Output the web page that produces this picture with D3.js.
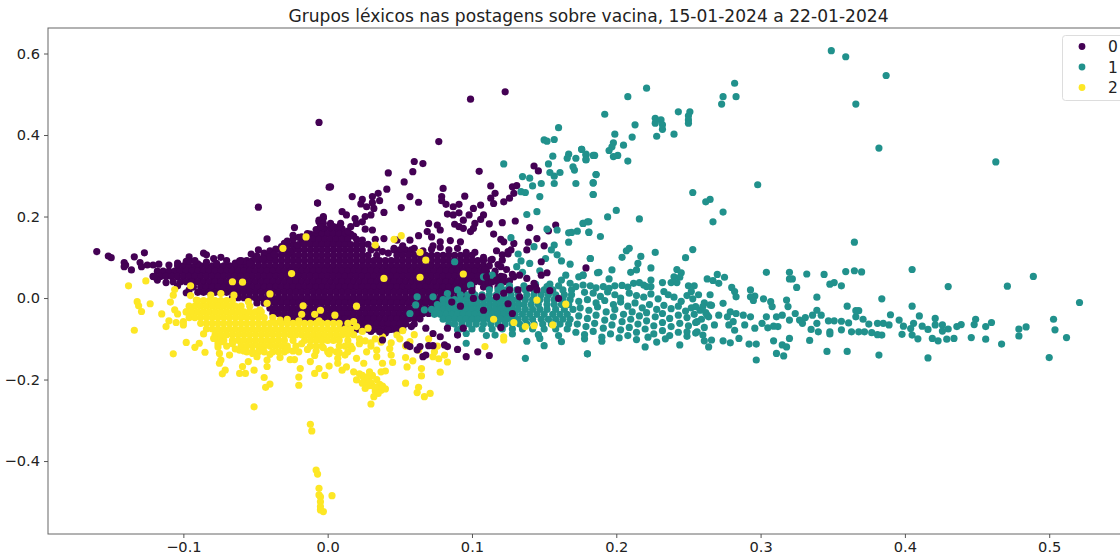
<!DOCTYPE html>
<html><head><meta charset="utf-8">
<script src="https://cdn.jsdelivr.net/npm/d3@7/dist/d3.min.js"></script>
<style>html,body{margin:0;padding:0;background:#fff;overflow:hidden}text{font-family:"DejaVu Sans",sans-serif}</style>
</head><body><svg id="c" width="1120" height="557"></svg>
<script>
const title = "Grupos léxicos nas postagens sobre vacina, 15-01-2024 a 22-01-2024";
const xTicks = [-0.1,0,0.1,0.2,0.3,0.4,0.5];
const yTicks = [-0.4,-0.2,0,0.2,0.4,0.6];
const groups = ["0","1","2"];
const colors = ["#440154","#21918c","#fde725"];
// all coordinates are in thousandths of the axis units
const purpleRowY = [170,157,144,131,118,105,92,79,66,53,40,27,14,1,-12,-25,-38,-51,-64,-77];
const purpleRowX = [
[-6,-2,2,6,10],
[-12,-8,-4,0,4,8,12,16],
[-18,-14,-10,-6,-2,2,6,10,14,20],
[-24,-20,-16,-12,-8,-4,0,4,8,12,16,20,24],
[-28,-24,-20,-16,-12,-8,-4,0,4,8,12,16,20,24,30,46,50,54,58],
[-44,-40,-36,-32,-28,-24,-20,-16,-12,-8,-4,0,4,8,12,16,20,24,28,34,48,52,56,60,64,68,72,76,80,84,88,92,96,100],
[-60,-56,-52,-48,-44,-40,-36,-32,-28,-24,-20,-16,-12,-8,-4,0,4,8,12,16,20,24,28,32,36,40,44,48,52,56,60,64,68,72,76,80,84,88,92,96,100,104,108],
[-104,-100,-96,-92,-88,-84,-80,-76,-72,-68,-64,-60,-56,-52,-48,-44,-40,-36,-32,-28,-24,-20,-16,-12,-8,-4,0,4,8,12,16,20,24,28,32,36,40,44,48,52,56,60,64,68,72,76,80,84,88,92,96,100,104,108,112],
[-118,-114,-110,-106,-102,-98,-94,-90,-86,-82,-78,-74,-70,-66,-62,-58,-54,-50,-46,-42,-38,-34,-30,-26,-22,-18,-14,-10,-6,-2,2,6,10,14,18,22,26,30,34,38,42,46,50,54,58,62,66,70,74,78,82,86,90,94,98,102,106,110,116],
[-121,-116,-112,-108,-104,-100,-96,-92,-88,-84,-80,-76,-72,-68,-64,-60,-56,-52,-48,-44,-40,-36,-32,-28,-24,-20,-16,-12,-8,-4,0,4,8,12,16,20,24,28,32,36,40,44,48,52,56,60,64,68,72,76,80,84,88,92,96,100,104,108,112,116,120],
[-107,-102,-98,-94,-90,-86,-82,-78,-74,-70,-66,-62,-58,-54,-50,-46,-42,-38,-34,-30,-26,-22,-18,-14,-10,-6,-2,2,6,10,14,18,22,26,30,34,38,42,46,50,54,58,62,66,70,74,78,82,86,90,94,98,102,106,110,114,118,122],
[-93,-88,-84,-80,-76,-72,-68,-64,-60,-56,-52,-48,-44,-40,-36,-32,-28,-24,-20,-16,-12,-8,-4,0,4,8,12,16,20,24,28,32,36,40,44,48,52,56,60,64,68,72,76,80,84,88,92,96,100,108,112,118,126],
[-90,-86,-82,-78,-74,-70,-66,-62,-58,-54,-50,-46,-42,-38,-34,-30,-26,-22,-18,-14,-10,-6,-2,2,6,10,14,18,22,26,30,34,38,42,46,50,54,58,62,66,70,74,78,82,86,90,94,100],
[-66,-62,-58,-54,-50,-46,-42,-38,-34,-30,-26,-22,-18,-14,-10,-6,-2,2,6,10,14,18,22,26,30,34,38,42,46,50,54,58,62,66,70,74,78,82,86,90,96],
[-49,-44,-40,-36,-32,-28,-24,-20,-16,-12,-8,-4,0,4,8,12,16,20,24,28,32,36,40,44,48,52,56,60,64,68,72,76,80],
[-40,-36,-32,-28,-24,-20,-16,-12,-8,-4,0,4,8,12,16,20,24,28,32,36,40,44,48,52,56,60,64,68,72,76],
[-38,-34,-30,-26,-22,-18,-14,-10,-6,-2,2,6,10,14,18,22,26,30,34,38,42,46,50,54,58,62,66,70],
[-32,-28,-24,-20,-16,-12,-8,-4,0,4,8,12,16,20,24,28,32,36,40,44,48,52,56,60,64],
[10,14,18,22,26,30,34,38,42,46,50,54,60],
[20,24,28,32,36,40,44,48,52]];
const purpleEdge = [[-104,86],[-98,90],[-90,84],[-84,88],[-70,92],[-64,86],[-58,90],[-50,97],[-44,110],[-40,116],[-36,120],[-32,115],[-28,128],[-28,140],[-24,144],[-18,150],[-14,158],[-8,168],[-4,178],[2,183],[8,176],[14,164],[18,152],[24,142],[28,132],[34,122],[38,114],[42,110],[46,122],[52,128],[60,122],[66,116],[72,120],[78,124],[84,118],[90,122],[96,112],[102,112],[108,100],[114,95],[118,82],[124,70],[128,58],[126,42],[-118,44],[-112,38],[-104,30],[-96,20],[30,-82],[40,-86],[48,-82],[14,-72],[58,-70]];
const purpleSparse = [[-160,114],[-152,103],[-150,99],[-141,87],[-140,81],[-141,77],[-136,69],[-134,101],[-127,111],[-130,87],[-129,77],[-125,81],[-121,81],[-117,83],[-110,81],[-120,52],[-96,101],[-96,92],[-92,92],[-86,110],[-84,106],[-79,97],[-74,100],[-77,85],[-61,91],[-54,85],[-53,108],[-48,118],[-45,97],[-49,103],[-40,101],[-37,107],[-48,223],[-42,145],[-23,173],[-7,233],[1,272],[-24,154],[-20,149],[-30,134],[-21,130],[-26,114],[-32,126],[-3,196],[-6,187],[-3,173],[2,179],[-98,13],
[99,488],[123,506],[-6,431],[77,384],[60,335],[66,330],[59,310],[42,307],[105,311],[53,285],[2,273],[41,267],[80,269],[17,249],[57,249],[95,250],[-7,233],[63,235],[51,222],[113,275],[116,257],[128,273],[131,276],[129,257],[126,245],[113,245],[115,232],[122,236],[143,324],[146,312],
[79,249],[79,239],[82,230],[87,224],[91,230],[83,206],[87,204],[91,209],[101,220],[106,228],[98,204],[94,191],[108,204],[106,193],[102,183],[88,181],[91,175],[94,171],[99,163],[101,171],[112,182],[121,185],[130,189],[140,173],[115,157],[153,165],[158,179],[145,146],[120,144],[122,138],[129,134],[139,137],[150,128],[127,118],[125,108],[121,106],[117,116],[138,118],
[92,138],[85,141],[78,138],[73,128],[70,183],[76,179],[69,163],[72,150],[78,167],[63,153],[57,142],[48,142],[39,146],[33,144],[31,167],[26,169],[24,187],[19,195],[13,204],[10,212],[39,210],[30,204],[26,200],[32,220],[27,224],[23,231],[24,242],[31,249],[35,257],[36,239],[31,234],[-3,200],[-6,191],[-3,183],[-5,175],[9,183],[4,175],[16,175],[20,183]];
const yellowRowY = [-6,-20,-34,-48,-62,-76,-90,-104,-118,-132];
const yellowRowX = [
[-90,-86,-82,-78,-74,-70,-66],
[-96,-92,-88,-84,-80,-76,-72,-68,-64,-60,-54],
[-98,-94,-90,-86,-82,-78,-74,-70,-66,-62,-58,-54,-50,-46],
[-96,-92,-88,-84,-80,-76,-72,-68,-64,-60,-56,-52,-48,-44,-38],
[-88,-84,-80,-76,-72,-68,-64,-60,-56,-52,-48,-44,-40,-36,-32,-28,-24,-20,-16,-12,-8,-4,0,4,8,14],
[-84,-80,-76,-72,-68,-64,-60,-56,-52,-48,-44,-40,-36,-32,-28,-24,-20,-16,-12,-8,-4,0,4,8,12,16],
[-78,-74,-70,-66,-62,-58,-54,-50,-46,-42,-38,-34,-30,-26,-22,-18,-14,-10,-6,-2,2,6,10,14,18],
[-76,-72,-66,-62,-58,-54,-50,-46,-42,-38,-34,-30,-24,-16,-12,-8,-4,0,4,8,14],
[-60,-56,-52,-48,-44,-40,-36,-32,-28,-22,-12,-8,-4,8,12,16],
[-56,-52,-48,-44,-38,-30,-20,0,6,14]];
const yellowEdge = [[-98,-34],[-91,-5],[-81,7],[-74,11],[-65,7],[-55,-9],[-42,-13],[-47,-29],[-33,-54],[-79,-99],[-76,-112],[-61,-128],[-49,-144],[-42,-152],[-28,-128],[-66,-112],[-70,-118],[-64,-125],[-58,-130],[-52,-136],[-46,-128],[-40,-138],[-34,-132],[-28,-124],[-24,-130],[-18,-112],[-14,-126],[-8,-130],[-3,-122],[2,-128],[8,-134],[12,-140],[17,-124],[22,-112],[26,-105],[30,-118],[33,-100],[37,-108],[44,-110],[50,-100],[54,-118],[22,-186],[25,-196],[27,-200],[30,-208],[31,-215],[34,-200],[36,-212],[33,-228],[37,-226],[28,-215],[24,-190],[31,-190],[35,-222],[38,-216],[20,-70],[24,-82],[28,-74],[18,-58],[-20,-56],[-6,-56],[-28,-52]];
const yellowSparse = [[-138,30],[-126,42],[-106,21],[-95,30],[-107,7],[-95,6],[-109,-10],[-132,-9],[-131,-19],[-123,-14],[-129,-33],[-115,-39],[-106,-29],[-104,-39],[-110,-56],[-105,-60],[-100,-58],[-112,-70],[-100,-66],[-134,-79],[-107,-137],[-86,-88],[-98,-109],[-89,-111],[-92,-121],[-85,-133],[-73,-107],[-76,-120],[-75,-136],[-68,-140],[-75,-160],[-74,-152],[-71,-177],[-73,-186],[-61,-185],[-57,-185],[-51,-177],[-59,-168],[-55,-156],[-42,-168],[-44,-195],[-40,-211],[-43,-219],[-33,-146],[-26,-151],[-23,-151],[-19,-173],[-20,-194],[-20,-214],[-9,-185],[-6,-173],[-2,-190],[1,-167],[-12,-156],[-9,-141],
[-51,-267],[-12,-310],[-11,-326],[-8,-422],[-7,-432],[-6,-467],[-6,-483],[-5,-488],[3,-485],[-5,-500],[-5,-512],[-3,-524],[-5,-520],
[7,-160],[10,-177],[13,-169],[18,-181],[20,-201],[24,-209],[26,-222],[28,-193],[29,-205],[29,-181],[33,-219],[35,-234],[32,-242],[30,-260],[40,-223],[37,-181],[40,-179],[38,-160],[45,-158],[54,-209],[55,-169],[63,-219],[62,-232],[67,-242],[71,-234],[65,-191],[65,-173],[78,-182],[59,-154],[54,-146],[83,-157],[77,-149],[81,-140],[73,-144],[74,-132],[63,-128],[57,-107],[48,-91],[44,-140],[43,-124],[34,-144],[34,-128],[27,-132],[25,-160],[20,-148],[7,-148],[1,-137],[22,-100],[30,-110],[38,-95],[52,-80],[60,-90],[70,-100],[76,-118],
[-66,40],[-59,39],[-31,122],[-18,-40],[-17,-19],[-9,-40],[-5,-30],[5,-42],[39,48],[51,153],[68,93],[94,59],[46,144],[33,130],[64,112],[64,51],[-25,60],[-40,10],[20,-20],[-15,150]];
const tealRowY = [20,8,-4,-16,-28,-40,-52,-64,-76];
const tealRowX = [
[112,118,124,131,137,143,150,156,163,169],
[92,97,102,107,112,117,122,127,132,138,143,148,153,158,164,169],
[80,84,88,92,96,100,104,108,112,116,120,124,128,132,137,142,147,152,157,163,168],
[76,80,84,88,92,96,100,104,108,112,116,120,124,128,132,136,141,146,152,157,162,167],
[72,76,80,84,88,92,96,100,104,108,112,116,120,124,128,132,137,142,147,152,158,164,170],
[74,78,82,86,90,94,98,102,106,110,114,118,122,126,130,135,140,145,150,156,161,166],
[80,84,88,92,96,100,104,108,112,116,120,124,128,132,137,142,148,153,158,163,168],
[84,88,93,98,103,108,113,118,123,128,133,138,143,149,155,161,167],
[92,100,107,114,121,128,135,142,150,158,166]];
const tealScatter = [[177,32],[182,30],[186,25],[191,28],[195,24],[199,30],[204,31],[208,27],[212,36],[216,38],[219,32],[224,28],[178,14],[184,12],[189,4],[194,15],[199,8],[203,0],[209,12],[214,6],[219,2],[224,10],[229,-2],[233,16],[236,8],[240,2],[245,-8],[249,6],[253,-2],[257,8],[261,-12],[266,-18],
[174,-8],[180,-4],[186,-12],[192,-6],[198,-16],[203,-10],[208,-20],[213,-12],[218,-24],[223,-16],[228,-28],[233,-18],[238,-26],[243,-20],[248,-32],[252,-24],[258,-30],[262,-36],
[175,-24],[181,-30],[187,-22],[193,-34],[199,-28],[205,-40],[211,-34],[216,-44],[221,-36],[227,-46],[232,-38],[237,-50],[243,-42],[249,-48],[254,-40],[259,-52],[264,-46],
[174,-44],[180,-50],[186,-42],[192,-54],[198,-46],[204,-58],[210,-52],[215,-64],[221,-56],[226,-68],[232,-60],[238,-70],[244,-62],[250,-68],[255,-60],[261,-72],
[173,-64],[179,-70],[185,-62],[191,-74],[197,-66],[203,-78],[209,-72],[214,-84],[220,-76],[226,-88],[232,-80],[237,-92],[243,-84],[249,-94],[255,-86],
[172,-84],[178,-90],[184,-82],[190,-96],[196,-88],[202,-98],[208,-92],[214,-102],[222,-96],[228,-108],[234,-100],[190,-106],[178,-100]];
const tealSparse = [[349,607],[359,592],[387,546],[366,476],[382,368],[463,334],[298,278],[282,527],[274,494],[283,494],[273,476],[221,515],[208,494],[192,451],[243,457],[251,457],[250,447],[250,437],[250,429],[227,441],[227,429],[231,437],[232,425],[232,414],[240,402],[228,397],[213,425],[199,402],[211,395],[205,375],[198,381],[197,371],[195,362],[198,347],[201,350],[208,336],[185,350],[179,351],[179,339],[176,365],[186,303],[184,282],[184,254],[253,259],[262,236],[265,242],[274,211],[267,187],[200,215],[194,199],[216,194],[180,187],[177,183],[181,162],[189,151],[253,119],[248,99],[227,112],[209,122],[207,116],[217,102],[204,100],[182,97],[215,85],[224,74],[365,137],
[304,63],[320,63],[332,59],[344,58],[359,65],[365,67],[370,64],[405,70],[489,53],[471,29],[430,28],[521,-11],[384,-2],[405,-20],[360,-20],[339,2],[325,26],[322,47],[320,47],[348,34],[351,38],[356,30],[275,51],[270,58],[267,43],[263,47],[271,36],[250,30],[254,30],[252,16],[280,26],[282,16],[283,3],[293,20],[296,5],[293,3],[302,-2],[295,-6],[242,70],[245,62],[240,52],[244,51],[238,38],[242,38],[232,38],[224,44],[221,28],[197,69],[188,63],[210,63],[214,69],[195,47],[177,56],
[180,-137],[220,-120],[244,-115],[264,-120],[297,-152],[311,-136],[316,-142],[318,-120],[315,-115],[309,-105],[320,-99],[334,-104],[346,-131],[360,-131],[382,-140],[416,-147],[500,-146],[467,-113],[456,-101],[446,-97],[479,-93],[512,-97],[504,-78],[503,-52],[484,-71],[479,-76],[460,-60],[456,-70],[449,-52],[448,-65],[439,-65],[436,-70],[430,-76],[426,-81],[421,-50],[426,-66],[421,-66],[416,-77],[412,-69],[410,-44],[406,-62],[404,-75],[399,-69],[396,-54],[390,-41],[389,-66],[385,-62],[381,-62],[409,-100],[405,-91],[398,-89],[419,-99],[423,-105],[429,-101],[434,-99],[384,-91],[381,-90],[377,-85],[372,-83],[368,-83],[363,-83],[356,-78],[348,-83],[348,-88],[340,-83],[335,-77],[375,-64],[371,-52],[366,-46],[368,-31],[366,-31],[361,-61],[356,-57],[351,-56],[347,-56],[342,-42],[339,-62],[339,-30],[336,-42],[331,-48],[327,-54],[329,-62],[324,-38],[320,-54],[318,-5],[319,-21],[315,-42],[311,-46],[307,-9],[308,-21],[304,-46],[312,-70],[305,-73],[309,-69],[301,-62],[296,-74],[293,-46],[288,-42],[283,-38],[279,-34],[274,-13],[277,-46],[281,-58],[289,-66],[278,-66],[268,-66],[271,-42],[265,8],[265,-17],[260,-21],[263,-42],[255,-21],[256,-58],[256,-83],[249,-83],[260,-91],[261,-105],[266,-103],[274,-105],[279,-110],[285,-99],[282,-79],[292,-113],[297,-113],
[122,329],[160,418],[150,388],[152,385],[157,389],[156,348],[153,329],[154,308],[157,299],[161,308],[157,281],[172,281],[147,249],[148,281],[142,275],[135,298],[140,294],[134,261],[137,259],[145,212],[138,205],[167,353],[166,343],[172,343],[176,365],[179,353],[179,340],[184,350],[170,322],[171,314],[186,303],[184,283],[184,254],[181,187],[177,183],[181,161],[173,164],[169,161],[167,160],[167,137],[159,167],[152,169],[157,130],[155,118],[151,97],[159,106],[162,91],[168,83],[182,97],[187,62],[143,126],[132,108],[140,85],[134,91],[131,77],[135,63],[147,67],[154,34],[165,56],[162,44],[174,52],[177,56],[127,148],
[62,3],[61,-17],[57,-38],[67,-29],[73,3],[83,11],[90,20],[99,32],[108,52],[114,56],[120,28],[88,89],[96,-111],[137,-148],[180,-137],[138,-106],[147,-99],[150,-117],[162,-107],[116,-91],[96,-87],[90,-78],[110,-92],[128,-88],[146,-90],[160,-92],[172,28],[168,36],[160,30],[152,28],[144,34],[136,30],[126,30]];
const purpleOver = [[148,89],[152,62],[148,56],[179,74],[126,20],[132,20],[133,3],[140,24],[144,28],[145,20],[154,18],[160,-1],[120,-72],[107,3],[101,-1],[117,3],[122,12],[117,44],[122,52],[129,52],[133,56],[138,48],[143,36],[110,52],[109,69],[113,93],[121,93],[125,114],[120,77],[100,18],[92,-20],[108,-30],[125,-14],[128,-38],[86,-10],
[96,-144],[104,-132],[112,-141],[90,-126],[81,-115],[83,-119],[73,-117],[70,-117],[66,-144],[57,-119],[55,-115],[64,-119],[68,-140],[62,-127],[36,-83],[42,-78],[38,-103],[68,-74],[73,-87],[78,-95],[90,-91],[94,-74],[83,-74]];
const yellowOver = [[137,-70],[143,-68],[156,-66],[165,-15],[145,-5],[129,-60],[122,-95],[122,-103],[109,-119],[115,-52]];

const rowsToPoints = (ys, xs) => ys.flatMap((y, i) => xs[i].map(x => [x, y]));
const plotL = 48, plotR = 1128, plotT = 28, plotB = 534;
const x = d3.scaleLinear().domain([-0.1938, 0.5546]).range([plotL, plotR]);
const y = d3.scaleLinear().domain([-0.579, 0.6626]).range([plotB, plotT]);
const svg = d3.select("#c");
const layers = [
  {g:0, pts: rowsToPoints(purpleRowY, purpleRowX).concat(purpleEdge, purpleSparse)},
  {g:2, pts: rowsToPoints(yellowRowY, yellowRowX).concat(yellowEdge, yellowSparse)},
  {g:1, pts: rowsToPoints(tealRowY, tealRowX).concat(tealScatter, tealSparse)},
  {g:0, pts: purpleOver},
  {g:2, pts: yellowOver}
];
const marks = svg.append("g");
layers.forEach(l => {
  marks.append("g").attr("fill", colors[l.g]).selectAll("circle").data(l.pts).join("circle")
    .attr("cx", d => x(d[0] / 1000)).attr("cy", d => y(d[1] / 1000)).attr("r", 3.6);
});
svg.append("rect").attr("x", plotL).attr("y", plotT).attr("width", plotR - plotL).attr("height", plotB - plotT)
  .attr("fill", "none").attr("stroke", "#666").attr("stroke-width", 1);
const fmt = v => d3.format(".1f")(v).replace("-", "\u2212");
const xa = svg.append("g").attr("transform", `translate(0,${plotB})`)
  .call(d3.axisBottom(x).tickValues(xTicks).tickFormat(fmt).tickSize(4).tickPadding(4));
const ya = svg.append("g").attr("transform", `translate(${plotL},0)`)
  .call(d3.axisLeft(y).tickValues(yTicks).tickFormat(fmt).tickSize(4).tickPadding(4));
[xa, ya].forEach(a => {
  a.select(".domain").remove();
  a.selectAll("line").attr("stroke", "#555");
  a.selectAll("text").attr("fill", "#222").style("font-size", "14.6px").style("font-family", '"DejaVu Sans"');
});
svg.append("text").attr("x", 588.5).attr("y", 22).attr("text-anchor", "middle")
  .attr("fill", "#222").style("font-size", "17.1px").text(title);
const lg = svg.append("g");
lg.append("rect").attr("x", 1062.5).attr("y", 35.5).attr("width", 70).attr("height", 65).attr("rx", 3)
  .attr("fill", "#fff").attr("fill-opacity", 0.85).attr("stroke", "#ddd");
groups.forEach((g, i) => {
  const yy = 46.5 + i * 20.5;
  lg.append("circle").attr("cx", 1082).attr("cy", yy).attr("r", 3.4).attr("fill", colors[i]);
  lg.append("text").attr("x", 1108).attr("y", yy + 5.5).attr("fill", "#222").style("font-size", "15.5px").text(g);
});
</script></body></html>
